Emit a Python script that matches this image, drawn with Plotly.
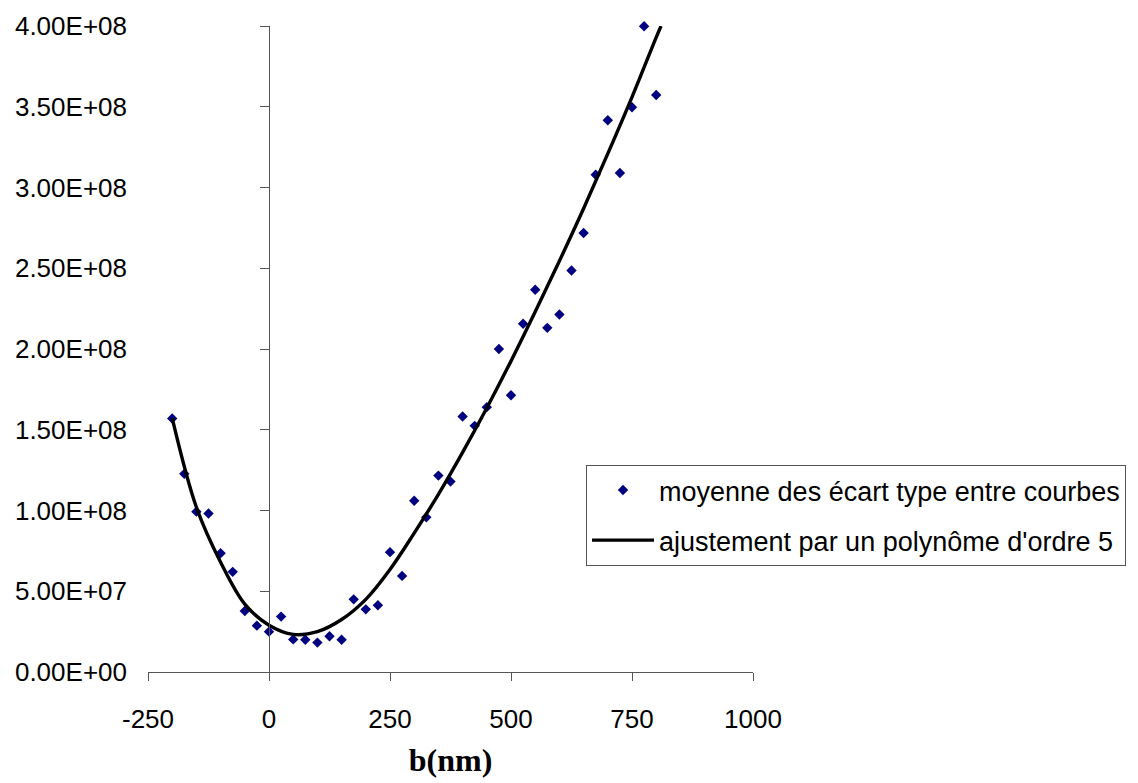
import plotly.graph_objects as go

# Data
b_nm = [-200, -175, -150, -125, -100, -75, -50, -25, 0, 25, 50, 75, 100, 125, 150,
        175, 200, 225, 250, 275, 300, 325, 350, 375, 400, 425, 450, 475, 500, 525,
        550, 575, 600, 625, 650, 675, 700, 725, 750, 775, 800]
ecart = [1.57e8, 1.227e8, 0.993e8, 0.981e8, 0.735e8, 0.62e8, 0.378e8, 0.287e8, 0.25e8,
         0.343e8, 0.202e8, 0.20e8, 0.182e8, 0.221e8, 0.20e8,
         0.45e8, 0.388e8, 0.413e8, 0.742e8, 0.595e8, 1.06e8, 0.958e8, 1.216e8, 1.179e8,
         1.582e8, 1.524e8, 1.64e8, 2.00e8, 1.714e8, 2.156e8,
         2.367e8, 2.131e8, 2.214e8, 2.486e8, 2.718e8, 3.079e8, 3.416e8, 3.09e8,
         3.497e8, 3.998e8, 3.573e8]

# 5th-order polynomial trendline
fit_x = [-200, -150, -100, -50, 0, 50, 100, 150, 200, 250, 300, 350, 400,
         450, 500, 550, 600, 650, 700, 750, 800, 810]
fit_y = [1.572e8, 1.02e8, 0.68e8, 0.42e8, 0.29e8, 0.233e8, 0.25e8, 0.325e8,
         0.45e8, 0.635e8, 0.86e8, 1.10e8, 1.36e8, 1.635e8, 1.925e8, 2.23e8,
         2.545e8, 2.87e8, 3.21e8, 3.56e8, 3.93e8, 4.0e8]

x_ticks = [-250, 0, 250, 500, 750, 1000]
x_tick_text = ["-250", "0", "250", "500", "750", "1000"]
y_ticks = [0, 0.5e8, 1.0e8, 1.5e8, 2.0e8, 2.5e8, 3.0e8, 3.5e8, 4.0e8]
y_tick_text = ["0.00E+00", "5.00E+07", "1.00E+08", "1.50E+08", "2.00E+08",
               "2.50E+08", "3.00E+08", "3.50E+08", "4.00E+08"]

name_pts = "moyenne des écart type entre courbes"
name_fit = "ajustement par un polynôme d'ordre 5"

AXC = "#555555"
FONT = "Liberation Sans, Arial, sans-serif"
FS = 26

fig = go.Figure()
fig.add_trace(go.Scatter(
    x=b_nm, y=ecart, mode="markers", name=name_pts,
    marker=dict(symbol="diamond", size=8, color="#000080"),
    cliponaxis=False, legendgroup="a"))
fig.add_trace(go.Scatter(
    x=fit_x, y=fit_y, mode="lines", name=name_fit,
    line=dict(color="black", width=3.4, shape="spline", smoothing=1),
    cliponaxis=False, legendgroup="b"))

fig.update_layout(
    template="none",
    width=1138, height=783,
    margin=dict(l=140, r=393, t=18, b=119, autoexpand=False),
    paper_bgcolor="white", plot_bgcolor="white",
    font=dict(family=FONT, size=FS, color="black"),
    showlegend=True,
    legend=dict(x=0.724, y=0.3204, xanchor="left", yanchor="top",
                bgcolor="white", bordercolor=AXC, borderwidth=1,
                font=dict(family=FONT, size=27), itemwidth=62,
                tracegroupgap=12, traceorder="grouped"),
    xaxis=dict(range=[-250, 1000], tickvals=x_ticks, ticktext=x_tick_text,
               showgrid=False, zeroline=False,
               showline=True, linecolor=AXC, linewidth=1, ticks="outside",
               ticklen=8, tickcolor=AXC, ticklabelstandoff=16, automargin=False,
               tickfont=dict(family=FONT, size=FS),
               title=dict(text="<b>b(nm)</b>", standoff=15,
                          font=dict(family="Liberation Serif, Times New Roman, serif", size=32))),
    yaxis=dict(range=[0, 4e8], tickvals=y_ticks, ticktext=y_tick_text,
               showgrid=False, zeroline=False, showline=False, ticks="",
               ticklabelstandoff=20, automargin=False,
               tickfont=dict(family=FONT, size=FS)),
    yaxis2=dict(range=[0, 4e8], overlaying="y", anchor="free", position=0.2,
                side="left", tickvals=y_ticks, showticklabels=False, automargin=False,
                showgrid=False, zeroline=False, showline=True, linecolor=AXC,
                linewidth=1, ticks="outside", ticklen=9, tickcolor=AXC),
)
fig.add_trace(go.Scatter(x=[None], y=[None], yaxis="y2", showlegend=False, hoverinfo="skip"))

fig.write_html("out.html")
